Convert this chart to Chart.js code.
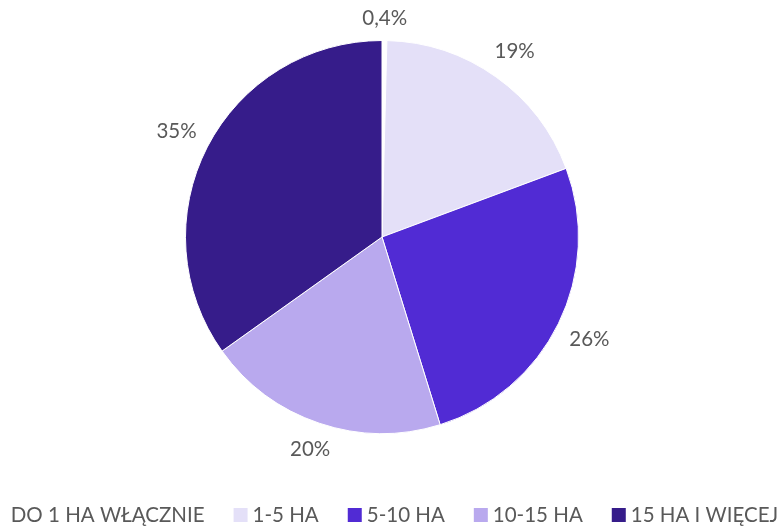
<!DOCTYPE html>
<html>
<head>
<meta charset="utf-8">
<script src="https://cdn.jsdelivr.net/npm/chart.js@4"></script>
<style>
  html, body { margin: 0; padding: 0; background: #fff; }
  canvas { display: block; }
</style>
</head>
<body>
<canvas id="chart" width="782" height="526"></canvas>
<script>
const categories = ['DO 1 HA WŁĄCZNIE', '1-5 HA', '5-10 HA', '10-15 HA', '15 HA I WIĘCEJ'];
const shares = [0.4, 19, 26, 20, 35];
const shareLabels = ['0,4%', '19%', '26%', '20%', '35%'];
const colors = ['#ffffff', '#e4e0f8', '#512bd4', '#b9a9ee', '#361c8a'];

const textColor = '#595959';
const fontFamily = 'Lato, "Open Sans", sans-serif';
const fontSize = 20.5;

// labels outside each slice: text box kept a fixed gap off the rim
const outsideLabels = {
  id: 'outsideLabels',
  afterDatasetsDraw(chart) {
    const ctx = chart.ctx;
    const arcs = chart.getDatasetMeta(0).data;
    ctx.save();
    ctx.font = fontSize + 'px ' + fontFamily;
    ctx.fillStyle = textColor;
    ctx.textAlign = 'center';
    ctx.textBaseline = 'middle';
    arcs.forEach(function(arc, i) {
      const mid = (arc.startAngle + arc.endAngle) / 2;
      const w = ctx.measureText(shareLabels[i]).width, h = fontSize;
      const cx = Math.cos(mid), cy = Math.sin(mid);
      const dist = arc.outerRadius + 12 + Math.abs(cx) * w / 2 + Math.abs(cy) * h / 2;
      ctx.fillText(shareLabels[i], arc.x + cx * dist, arc.y + cy * dist);
    });
    ctx.restore();
  }
};

// single-row legend, centred, allowed to run past the canvas edges
const rowLegend = {
  id: 'rowLegend',
  afterDraw(chart) {
    const ctx = chart.ctx;
    const box = 14, gap = 5, spacing = 29, y = 515;
    ctx.save();
    ctx.font = fontSize + 'px ' + fontFamily;
    let widths = categories.map(c => ctx.measureText(c).width);
    let total = widths.reduce((a, w) => a + box + gap + w, 0) + spacing * (categories.length - 1);
    let x = chart.width / 2 - 6 - total / 2;
    ctx.textBaseline = 'middle';
    categories.forEach(function(c, i) {
      ctx.fillStyle = colors[i];
      ctx.fillRect(x, y - box / 2, box, box);
      x += box + gap;
      ctx.fillStyle = textColor;
      ctx.fillText(c, x, y);
      x += widths[i] + spacing;
    });
    ctx.restore();
  }
};

new Chart(document.getElementById('chart'), {
  type: 'pie',
  data: {
    labels: categories,
    datasets: [{
      data: shares,
      backgroundColor: colors,
      borderColor: '#ffffff',
      borderWidth: 1
    }]
  },
  options: {
    responsive: false,
    animation: false,
    layout: { padding: { top: 40, bottom: 92, left: 0, right: 18 } },
    plugins: {
      legend: { display: false },
      tooltip: { enabled: false }
    }
  },
  plugins: [outsideLabels, rowLegend]
});
</script>
</body>
</html>
